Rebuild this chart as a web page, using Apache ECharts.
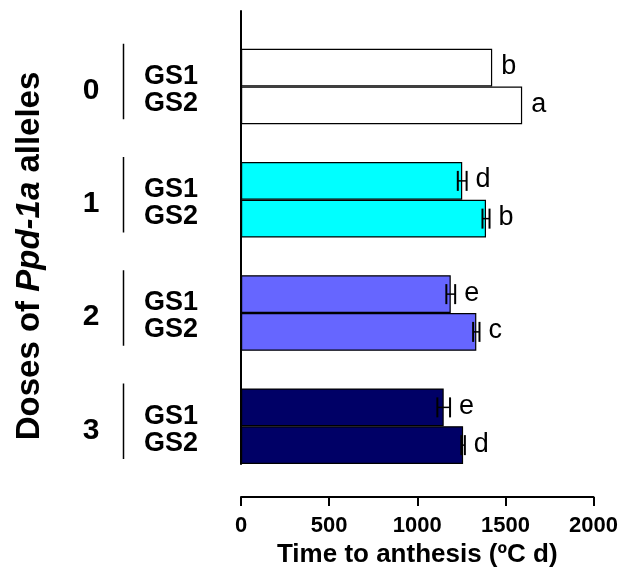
<!DOCTYPE html>
<html>
<head>
<meta charset="utf-8">
<script src="https://cdn.jsdelivr.net/npm/echarts@6/dist/echarts.min.js"></script>
<style>
  html, body { margin: 0; padding: 0; background: #fff; }
  #chart { width: 621px; height: 579px; }
</style>
</head>
<body>
<div id="chart"></div>
<script>
// rows top to bottom, blank slot before each dose group
const slots = ['', 'GS1', 'GS2', '', 'GS1', 'GS2', '', 'GS1', 'GS2', '', 'GS1', 'GS2']
const doses = ['0', '1', '2', '3']
const times = [null, 1425, 1595, null, 1255, 1390, null, 1190, 1335, null, 1150, 1260]
const errors = [null, 0, 0, null, 25, 20, null, 25, 18, null, 36, 10]
const letters = ['', 'b', 'a', '', 'd', 'b', '', 'e', 'c', '', 'e', 'd']
const doseColors = ['#ffffff', '#00ffff', '#6666ff', '#000066']
const xTicks = [0, 500, 1000, 1500, 2000]

const font = '"Liberation Sans", Arial, Helvetica, sans-serif'
const chart = echarts.init(document.getElementById('chart'))

// indices of the real bars
const rows = []
times.forEach((v, i) => { if (v != null) rows.push(i) })

const option = {
  animation: false,
  grid: { left: 241, right: 27, top: 11, bottom: 115 },
  xAxis: {
    type: 'value',
    min: xTicks[0],
    max: xTicks[xTicks.length - 1],
    interval: xTicks[1] - xTicks[0],
    offset: 33,
    axisLine: { show: true, lineStyle: { color: '#000', width: 2 } },
    axisTick: { show: true, length: 9, lineStyle: { color: '#000', width: 2 } },
    axisLabel: {
      color: '#000', fontSize: 22, fontWeight: 'bold', fontFamily: font, margin: 18,
      formatter: v => String(v)
    },
    splitLine: { show: false },
    name: 'Time to anthesis (ºC d)',
    nameLocation: 'middle',
    nameGap: 38,
    nameTextStyle: { color: '#000', fontSize: 26, fontWeight: 'bold', fontFamily: font }
  },
  yAxis: {
    type: 'category',
    data: slots,
    inverse: true,
    offset: 32,
    axisLine: { show: true, lineStyle: { color: '#000', width: 2 } },
    axisTick: { show: false },
    axisLabel: { show: false },
    splitLine: { show: false }
  },
  graphic: [{
    type: 'text',
    x: 30,
    y: 256,
    rotation: Math.PI / 2,
    style: {
      text: '{b|Doses of }{i|Ppd-1a}{b| alleles}',
      align: 'center',
      verticalAlign: 'middle',
      rich: {
        b: { fontSize: 33, fontWeight: 'bold', fontFamily: font, fill: '#000' },
        i: { fontSize: 33, fontWeight: 'bold', fontStyle: 'italic', fontFamily: font, fill: '#000' }
      }
    }
  }],
  series: [
    {
      type: 'bar',
      barCategoryGap: '0%',
      data: times.map((v, i) => v == null ? '-' : {
        value: v,
        itemStyle: { color: doseColors[Math.floor(i / 3)] }
      }),
      itemStyle: { borderColor: '#000', borderWidth: 1.2 }
    },
    {
      // error bars and significance letters
      type: 'custom',
      data: rows.map(i => [times[i], i, errors[i]]),
      renderItem: function (params, api) {
        const i = rows[params.dataIndex]
        const v = api.value(0)
        const err = api.value(2)
        const lo = api.coord([v - err, i])
        const hi = api.coord([v + err, i])
        const y = lo[1]
        const children = []
        if (err > 0) {
          children.push({ type: 'line', shape: { x1: lo[0], y1: y, x2: hi[0], y2: y }, style: { stroke: '#000', lineWidth: 1.5 } })
          children.push({ type: 'line', shape: { x1: lo[0], y1: y - 10, x2: lo[0], y2: y + 10 }, style: { stroke: '#000', lineWidth: 2 } })
          children.push({ type: 'line', shape: { x1: hi[0], y1: y - 10, x2: hi[0], y2: y + 10 }, style: { stroke: '#000', lineWidth: 2 } })
        }
        children.push({
          type: 'text',
          style: { x: hi[0] + 9, y: y - 1, text: letters[i], align: 'left', verticalAlign: 'middle', fontSize: 27, fontFamily: font, fill: '#000' }
        })
        return { type: 'group', children: children }
      },
      z: 5
    },
    {
      // dose numbers, brackets and GS labels on the left
      type: 'custom',
      data: doses.map((d, k) => [0, 3 * k + 1]),
      renderItem: function (params, api) {
        const k = params.dataIndex
        const s1 = 3 * k + 1
        const p1 = api.coord([0, s1])
        const p2 = api.coord([0, s1 + 1])
        const band = api.size([0, 1])[1]
        const left = p1[0]
        const mid = (p1[1] + p2[1]) / 2
        return {
          type: 'group',
          children: [
            { type: 'text', style: { x: left - 150, y: mid + 4, text: doses[k], align: 'center', verticalAlign: 'middle', fontSize: 30, fontWeight: 'bold', fontFamily: font, fill: '#000' } },
            { type: 'line', shape: { x1: left - 117.5, y1: p1[1] - band / 2 - 5, x2: left - 117.5, y2: p2[1] + band / 2 - 5 }, style: { stroke: '#000', lineWidth: 1.5 } },
            { type: 'text', style: { x: left - 43, y: mid - 10, text: slots[s1], align: 'right', verticalAlign: 'middle', fontSize: 27, fontWeight: 'bold', fontFamily: font, fill: '#000' } },
            { type: 'text', style: { x: left - 43, y: mid + 17, text: slots[s1 + 1], align: 'right', verticalAlign: 'middle', fontSize: 27, fontWeight: 'bold', fontFamily: font, fill: '#000' } }
          ]
        }
      }
    }
  ]
}

chart.setOption(option)
</script>
</body>
</html>
